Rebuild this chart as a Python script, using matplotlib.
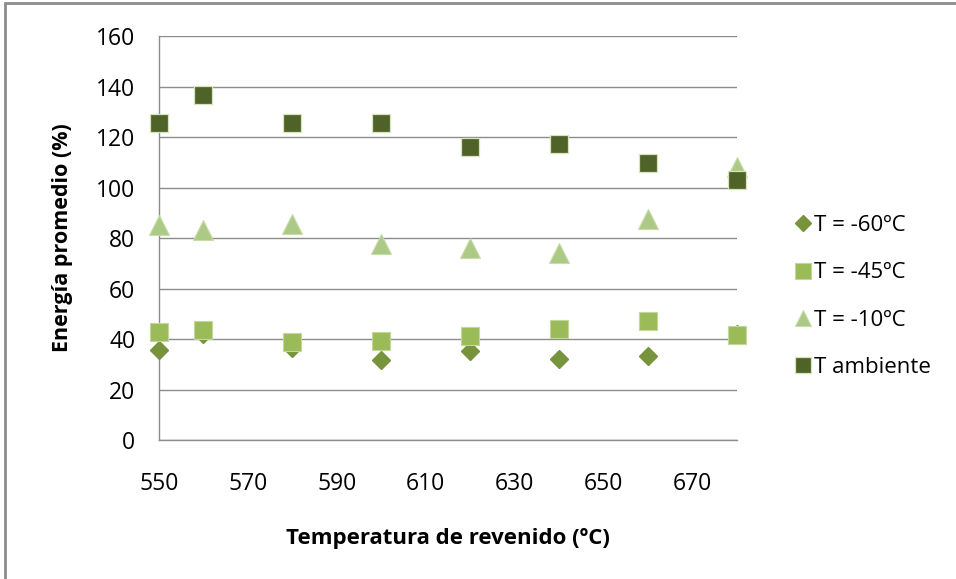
import matplotlib
matplotlib.use("Agg")
import matplotlib.pyplot as plt
from matplotlib.patches import Rectangle

# Tempering temperature (ºC)
temperatura = [550, 560, 580, 600, 620, 640, 660, 680]

# Average impact energy (%) for each test temperature
t_menos60 = [35.6, 42.0, 36.5, 31.7, 35.4, 32.0, 33.3, 42.0]
t_menos45 = [42.7, 43.6, 38.7, 39.3, 41.2, 44.1, 47.2, 41.6]
t_menos10 = [85.3, 83.0, 85.7, 77.7, 76.1, 74.1, 87.6, 108.1]
t_ambiente = [125.4, 136.8, 125.4, 125.4, 116.2, 117.2, 109.8, 102.8]

series_labels = ["T = -60ºC", "T = -45ºC", "T = -10ºC", "T ambiente"]
x_ticks = [550, 570, 590, 610, 630, 650, 670]
y_ticks = [0, 20, 40, 60, 80, 100, 120, 140, 160]

plt.rcParams["font.family"] = ["Open Sans", "DejaVu Sans"]

fig = plt.figure(figsize=(9.56, 5.79), dpi=100)
ax = fig.add_axes([0.1663, 0.240, 0.6047, 0.6978])

# outer chart frame
fig.patches.append(Rectangle((0.0055, -0.2), 1.2, 1.1955, transform=fig.transFigure,
                             fill=False, edgecolor="#8c8c8c", linewidth=2.0))

ax.plot(temperatura, t_menos60, linestyle="none", marker="D", ms=9.5,
        color="#77933c", mec="#77933c", label=series_labels[0], zorder=3, clip_on=False)
ax.plot(temperatura, t_menos45, linestyle="none", marker="s", ms=13.5,
        color="#9bbb59", mec="#c3d69b", mew=0.8, label=series_labels[1], zorder=4, clip_on=False)
ax.plot(temperatura, t_menos10, linestyle="none", marker="^", ms=14,
        color="#adc986", mec="#c8dcaa", mew=0.8, label=series_labels[2], zorder=5, clip_on=False)
ax.plot(temperatura, t_ambiente, linestyle="none", marker="s", ms=13.5,
        color="#4f6228", mec="#d7e4bd", mew=0.9, label=series_labels[3], zorder=6, clip_on=False)

ax.set_xlim(550, 680)
ax.set_ylim(0, 160)
ax.set_xticks(x_ticks)
ax.set_yticks(y_ticks)
ax.tick_params(axis="both", length=0, labelsize=16.5, colors="#000000")
ax.tick_params(axis="x", pad=23)
ax.tick_params(axis="y", pad=17)

ax.grid(axis="y", color="#8c8c8c", linewidth=1.0)
ax.set_axisbelow(True)
for side in ("top", "right"):
    ax.spines[side].set_visible(False)
for side in ("left", "bottom"):
    ax.spines[side].set_color("#8c8c8c")
    ax.spines[side].set_linewidth(1.0)

ax.set_ylabel("Energía promedio (%)", fontsize=15.5, fontweight="bold", labelpad=17)
ax.set_xlabel("Temperatura de revenido (ºC)", fontsize=16, fontweight="bold", labelpad=23)

leg = ax.legend(loc="center left", bbox_to_anchor=(1.068, 0.355), frameon=False,
                fontsize=16, markerscale=0.82, handlelength=0.6, handletextpad=0.2,
                labelspacing=1.18)

fig.savefig("out.png", dpi=100)
